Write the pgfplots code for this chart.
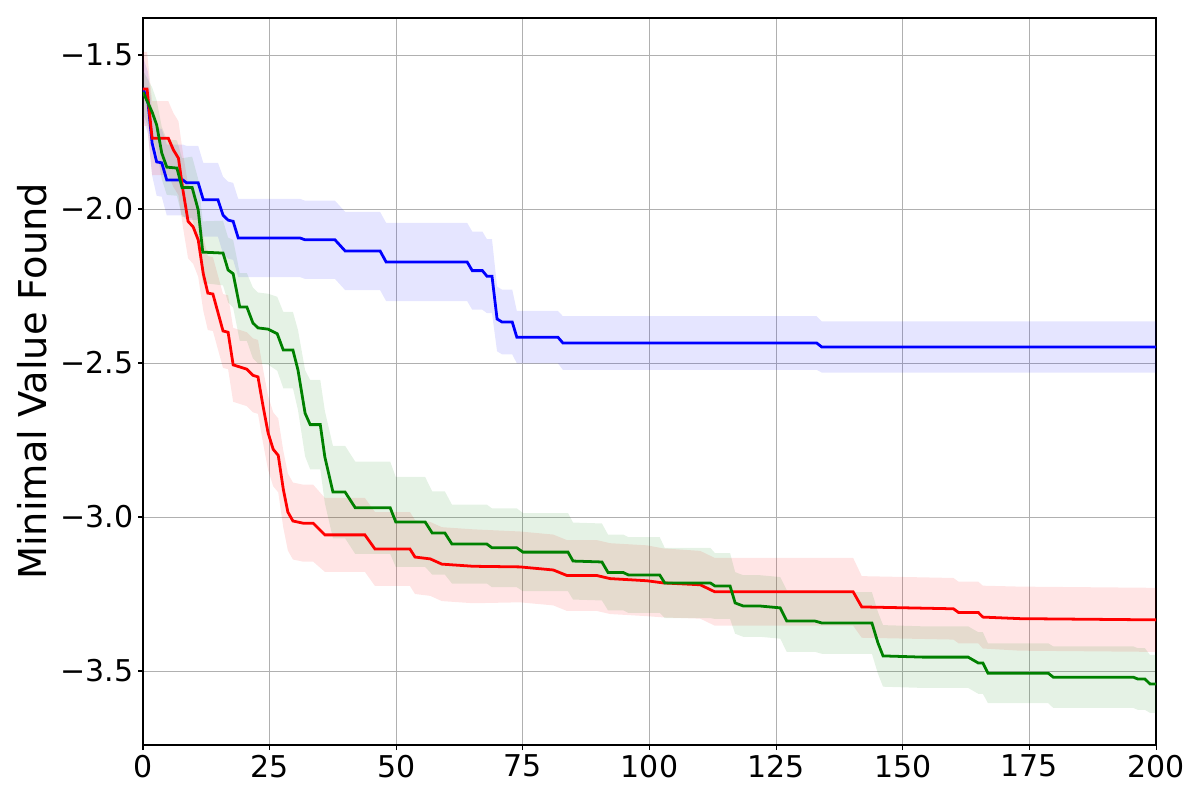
\documentclass[border=0pt]{standalone}
\usepackage{fontspec}
\setmainfont{DejaVu Sans}
\usepackage{pgfplots}
\pgfplotsset{compat=1.18}
\usepackage{pgfplotstable}
\usepgfplotslibrary{fillbetween}

% x, mean, std
\pgfplotstableread{
x m s
0 -1.607 0.10
1 -1.656 0.10
1.8 -1.786 0.105
2.7 -1.847 0.11
3.7 -1.85 0.11
4.7 -1.906 0.115
7.9 -1.906 0.115
8.6 -1.915 0.12
10.9 -1.915 0.12
11.9 -1.97 0.12
14.8 -1.97 0.12
15.8 -2.02 0.125
16.8 -2.036 0.125
17.8 -2.04 0.125
18.8 -2.094 0.127
31 -2.094 0.127
32 -2.10 0.127
37.9 -2.10 0.127
39.9 -2.136 0.127
46.8 -2.136 0.127
48 -2.172 0.127
64 -2.172 0.127
65 -2.20 0.127
67 -2.20 0.127
67.9 -2.218 0.12
68.9 -2.218 0.12
69.9 -2.357 0.105
70.9 -2.367 0.105
72.9 -2.367 0.105
73.8 -2.416 0.085
81.9 -2.416 0.085
82.9 -2.435 0.087
133 -2.435 0.087
134 -2.448 0.083
200 -2.448 0.083
}\blueseries

\pgfplotstableread{
x m s
0 -1.61 0.12
0.8 -1.61 0.12
1.8 -1.77 0.12
5 -1.77 0.12
6 -1.808 0.12
7 -1.835 0.12
7.9 -1.94 0.12
8.9 -2.04 0.12
9.9 -2.058 0.12
10.9 -2.10 0.12
11.9 -2.21 0.12
12.8 -2.273 0.12
13.8 -2.276 0.12
15.8 -2.396 0.12
16.8 -2.40 0.12
17.8 -2.506 0.12
20.5 -2.52 0.12
21.7 -2.54 0.12
22.7 -2.545 0.12
23.7 -2.64 0.12
24.7 -2.727 0.12
25.7 -2.78 0.12
26.7 -2.80 0.12
27.7 -2.91 0.125
28.6 -2.984 0.125
29.6 -3.013 0.125
31.6 -3.02 0.125
33.6 -3.02 0.125
35.9 -3.058 0.12
43.8 -3.058 0.12
45.8 -3.104 0.12
52.7 -3.104 0.12
53.7 -3.13 0.12
56.7 -3.136 0.12
59 -3.153 0.12
65.2 -3.16 0.12
74.4 -3.162 0.115
81 -3.172 0.115
83.7 -3.19 0.115
89.6 -3.19 0.115
92.2 -3.20 0.115
99.5 -3.207 0.115
102.7 -3.214 0.112
110 -3.22 0.11
112.9 -3.243 0.11
140.2 -3.243 0.11
141.9 -3.292 0.10
160 -3.298 0.10
161 -3.31 0.10
164.9 -3.31 0.10
165.8 -3.325 0.102
173.1 -3.33 0.104
200 -3.334 0.104
}\redseries

\pgfplotstableread{
x m s
0 -1.62 0.07
1.8 -1.685 0.08
2.7 -1.727 0.08
3.7 -1.818 0.085
4.7 -1.864 0.09
6.7 -1.867 0.09
7.7 -1.93 0.095
9.7 -1.93 0.10
10.9 -2.003 0.10
11.8 -2.14 0.10
15.8 -2.143 0.105
16.8 -2.198 0.105
17.8 -2.21 0.11
19.1 -2.318 0.11
20.5 -2.318 0.11
21.7 -2.37 0.115
22.7 -2.386 0.115
24.7 -2.39 0.115
26.5 -2.405 0.12
27.7 -2.458 0.124
29.6 -2.458 0.124
30.6 -2.523 0.13
32 -2.663 0.14
33 -2.70 0.145
35 -2.70 0.145
35.9 -2.805 0.15
37.5 -2.919 0.15
39.9 -2.919 0.15
41.9 -2.97 0.15
48.8 -2.97 0.15
49.9 -3.016 0.146
55.7 -3.016 0.146
57.1 -3.052 0.135
59.6 -3.052 0.135
61 -3.088 0.128
67.9 -3.088 0.128
68.9 -3.10 0.128
73.8 -3.10 0.128
75 -3.114 0.127
83.9 -3.114 0.127
84.9 -3.143 0.125
90.6 -3.146 0.125
91.8 -3.18 0.123
94.8 -3.18 0.123
95.8 -3.188 0.123
102 -3.188 0.123
103 -3.214 0.114
112 -3.214 0.114
112.9 -3.224 0.107
115.9 -3.224 0.107
116.9 -3.279 0.10
118.5 -3.289 0.10
121.8 -3.289 0.10
125.8 -3.295 0.10
127.1 -3.338 0.10
132.7 -3.338 0.10
134 -3.344 0.10
143.9 -3.344 0.10
145.1 -3.409 0.10
146.1 -3.451 0.10
154 -3.455 0.10
162.9 -3.455 0.10
164.9 -3.474 0.10
165.8 -3.474 0.10
166.8 -3.507 0.097
178.7 -3.507 0.097
179.7 -3.52 0.10
195.5 -3.52 0.10
196.4 -3.526 0.10
197.8 -3.526 0.10
198.8 -3.542 0.094
200 -3.542 0.094
}\greenseries

\definecolor{mplgreen}{RGB}{0,128,0}
\definecolor{gridgray}{RGB}{176,176,176}

\begin{document}
\begin{tikzpicture}
\begin{axis}[
  at={(0pt,0pt)}, anchor=south west,
  scale only axis,
  width=729.4pt, height=523.4pt,
  xmin=0, xmax=200,
  ymin=-3.7403, ymax=-1.3799,
  xtick={0,25,...,200},
  ytick={-3.5,-3.0,-2.5,-2.0,-1.5},
  yticklabels={−3.5,−3.0,−2.5,−2.0,−1.5},
  grid=major,
  major grid style={gridgray, line width=0.6pt},
  axis line style={black, line width=1pt},
  tick align=outside,
  major tick length=3.6pt,
  every tick/.style={black, line width=0.8pt},
  xtick pos=lower, ytick pos=left,
  /pgf/number format/assume math mode=true,
  ticklabel style={font=\fontsize{21.6}{26}\selectfont},
  ylabel={Minimal Value Found},
  ylabel style={at={(axis description cs:-0.1097,0.5)}, anchor=center,
    font=\fontsize{27.6}{33}\selectfont},
]
% blue
\addplot[draw=none, name path=bu, forget plot] table[x=x, y expr=\thisrow{m}+\thisrow{s}] {\blueseries};
\addplot[draw=none, name path=bl, forget plot] table[x=x, y expr=\thisrow{m}-\thisrow{s}] {\blueseries};
\addplot[fill=blue, fill opacity=0.1, draw=none] fill between[of=bu and bl];
% red
\addplot[draw=none, name path=ru, forget plot] table[x=x, y expr=\thisrow{m}+\thisrow{s}] {\redseries};
\addplot[draw=none, name path=rl, forget plot] table[x=x, y expr=\thisrow{m}-\thisrow{s}] {\redseries};
\addplot[fill=red, fill opacity=0.1, draw=none] fill between[of=ru and rl];
% green
\addplot[draw=none, name path=gu, forget plot] table[x=x, y expr=\thisrow{m}+\thisrow{s}] {\greenseries};
\addplot[draw=none, name path=gl, forget plot] table[x=x, y expr=\thisrow{m}-\thisrow{s}] {\greenseries};
\addplot[fill=mplgreen, fill opacity=0.1, draw=none] fill between[of=gu and gl];
% mean lines
\addplot[blue, line width=2pt] table[x=x, y=m] {\blueseries};
\addplot[red, line width=2pt] table[x=x, y=m] {\redseries};
\addplot[mplgreen, line width=2pt] table[x=x, y=m] {\greenseries};
\end{axis}
\pgfresetboundingbox
\path[use as bounding box] (-102.96pt,-39.6pt) rectangle (761.04pt,536.4pt);
\end{tikzpicture}
\end{document}
